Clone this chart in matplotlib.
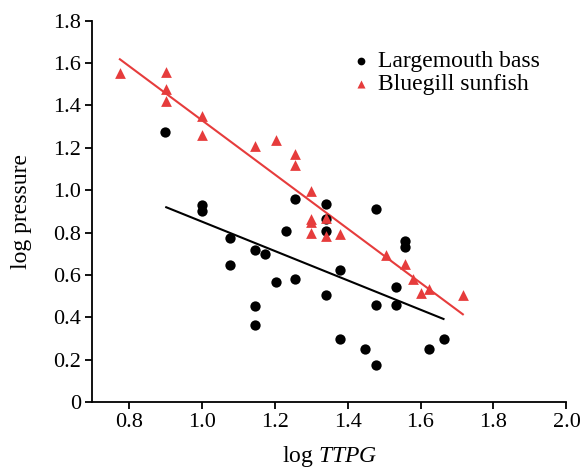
import numpy as np
import matplotlib
matplotlib.use("Agg")
import matplotlib.pyplot as plt

# largemouth bass (black circles)
bass_x = [0.90, 1.00, 1.00, 1.078, 1.078, 1.145, 1.145, 1.145, 1.175, 1.203,
          1.230, 1.255, 1.255, 1.342, 1.342, 1.342, 1.342, 1.379, 1.379, 1.447,
          1.477, 1.477, 1.477, 1.532, 1.532, 1.557, 1.557, 1.624, 1.663]
bass_y = [1.275, 0.93, 0.90, 0.776, 0.646, 0.720, 0.454, 0.366, 0.698, 0.566,
          0.806, 0.959, 0.580, 0.933, 0.865, 0.808, 0.506, 0.624, 0.299, 0.251,
          0.913, 0.460, 0.175, 0.543, 0.460, 0.761, 0.734, 0.251, 0.299]

# bluegill sunfish (red triangles)
gill_x = [0.776, 0.902, 0.902, 0.902, 1.00, 1.00, 1.145, 1.203, 1.255, 1.255,
          1.30, 1.30, 1.30, 1.30, 1.342, 1.342, 1.379, 1.505, 1.557, 1.580,
          1.601, 1.624, 1.716]
gill_y = [1.555, 1.559, 1.476, 1.420, 1.350, 1.261, 1.209, 1.237, 1.171, 1.118,
          0.998, 0.865, 0.850, 0.800, 0.871, 0.784, 0.794, 0.695, 0.651, 0.580,
          0.514, 0.533, 0.505]

# regression lines (end points)
bass_fit_x = [0.903, 1.663]
bass_fit_y = [0.920, 0.393]
gill_fit_x = [0.776, 1.716]
gill_fit_y = [1.618, 0.415]

xticks = [0.8, 1.0, 1.2, 1.4, 1.6, 1.8, 2.0]
yticks = [0, 0.2, 0.4, 0.6, 0.8, 1.0, 1.2, 1.4, 1.6, 1.8]
ytick_labels = ["0", "0.2", "0.4", "0.6", "0.8", "1.0", "1.2", "1.4", "1.6", "1.8"]

RED = "#e63c3c"

plt.rcParams.update({
    "font.family": "Liberation Serif",
    "font.size": 16,
    "mathtext.fontset": "custom",
    "mathtext.rm": "Liberation Serif",
    "mathtext.it": "Liberation Serif:italic",
})

fig = plt.figure(figsize=(5.87, 4.72), dpi=100)
ax = fig.add_axes([0.157, 0.1477, 0.808, 0.8085])

ax.plot(bass_fit_x, bass_fit_y, color="black", lw=1.5, zorder=2)
ax.plot(gill_fit_x, gill_fit_y, color=RED, lw=1.5, zorder=2)
ax.scatter(bass_x, bass_y, marker="o", s=55, color="black", lw=0,
           label="Largemouth bass", zorder=3)
ax.scatter(gill_x, gill_y, marker="^", s=60, color=RED, lw=0,
           label="Bluegill sunfish", zorder=4)

ax.set_xlim(0.7, 2.0)
ax.set_ylim(0, 1.8)
ax.set_xticks(xticks)
ax.set_xticklabels([f"{v:.1f}" for v in xticks])
ax.set_yticks(yticks)
ax.set_yticklabels(ytick_labels)

for s in ["top", "right"]:
    ax.spines[s].set_visible(False)
for s in ["left", "bottom"]:
    ax.spines[s].set_linewidth(1.3)
ax.tick_params(direction="out", length=5, width=1.3, labelsize=16, pad=3)

ax.set_xlabel(r"log $\mathit{TTPG}$", fontsize=17, labelpad=8)
ax.set_ylabel("log pressure", fontsize=17, labelpad=15)

ax.legend(loc="upper left", bbox_to_anchor=(0.515, 0.965), frameon=False,
          handlelength=0.7, handletextpad=0.35, borderpad=0.2,
          labelspacing=0.05, scatterpoints=1, fontsize=17, markerscale=0.75)

fig.savefig("out.png", dpi=100)
